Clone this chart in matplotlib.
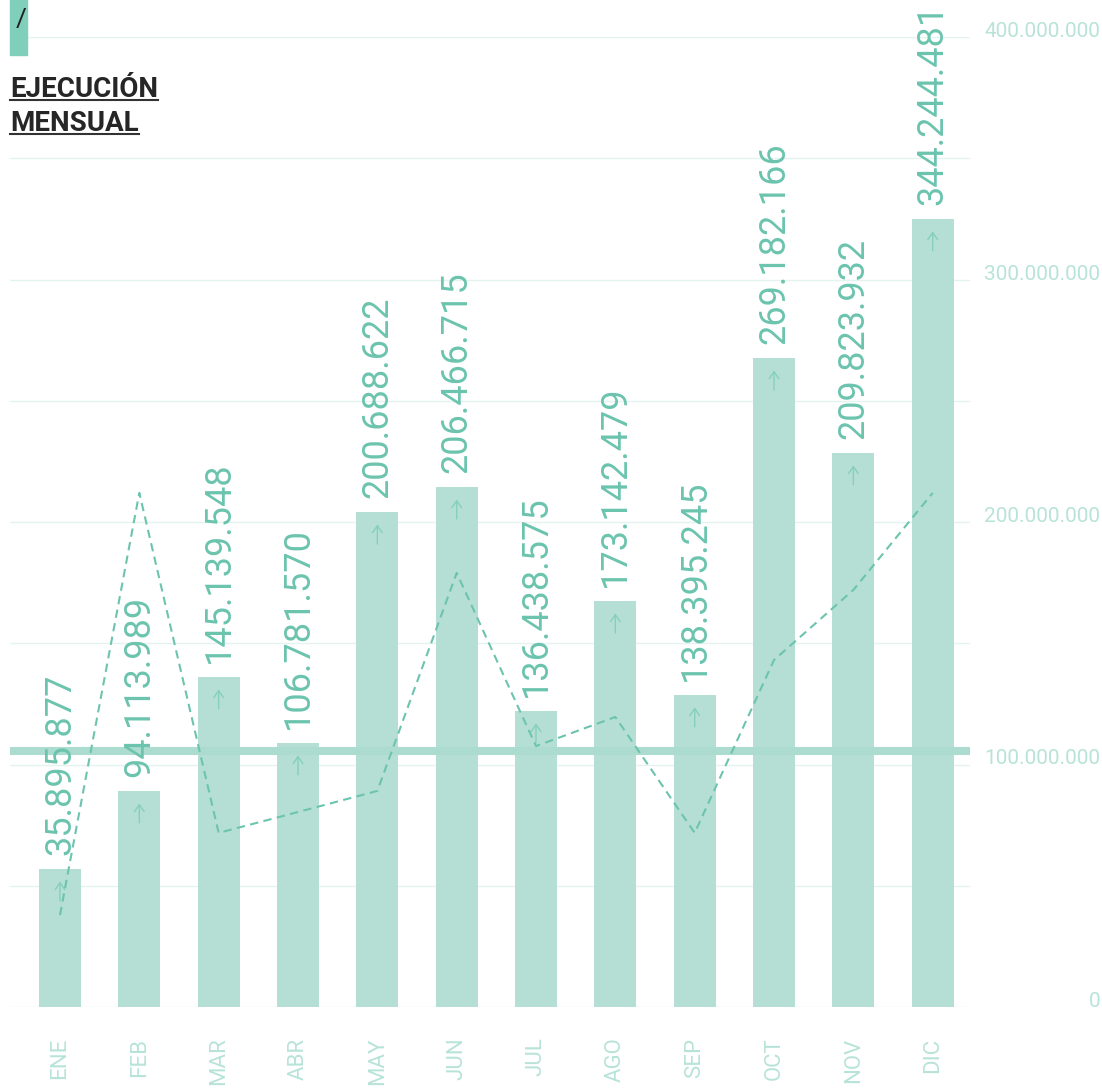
import matplotlib
matplotlib.use('Agg')
import matplotlib.pyplot as plt
import numpy as np
from matplotlib.lines import Line2D
from matplotlib.patches import Rectangle
from matplotlib.transforms import offset_copy

# datos
meses = ['ENE', 'FEB', 'MAR', 'ABR', 'MAY', 'JUN', 'JUL', 'AGO', 'SEP', 'OCT', 'NOV', 'DIC']
ejecucion = np.array([56.9, 89.1, 136.1, 108.9, 204.1, 214.4, 122.1, 167.4, 128.7, 267.6, 228.5, 325.0]) * 1e6
etiquetas = ['35.895.877', '94.113.989', '145.139.548', '106.781.570', '200.688.622', '206.466.715',
             '136.438.575', '173.142.479', '138.395.245', '269.182.166', '209.823.932', '344.244.481']
tendencia = np.array([37.9, 212.0, 71.8, 80.4, 89.1, 179.0, 107.6, 119.6, 71.8, 143.1, 172.0, 212.0]) * 1e6
promedio = 105.6e6
yticks = [0, 1e8, 2e8, 3e8, 4e8]
ytick_labels = ['0', '100.000.000', '200.000.000', '300.000.000', '400.000.000']

plt.rcParams['font.family'] = ['Roboto', 'DejaVu Sans']

W, H = 1102, 1088
fig = plt.figure(figsize=(W / 100, H / 100), dpi=100)
ax = fig.add_axes([10 / W, 81 / H, 960 / W, 970 / H])

x = np.arange(len(meses))
ax.bar(x, ejecucion, width=0.53, color='#b5dfd5', zorder=2)
ax.axhline(promedio, color='#abdccf', lw=5.8, zorder=3)
ax.plot(x, tendencia, ls=(0, (4, 2.6)), color='#6cc4ae', lw=1.5, zorder=5)

ax.set_xlim(-0.63, 11.47)
ax.set_ylim(0, 4e8)

# etiquetas de valor
for xi, v, lab in zip(x, ejecucion, etiquetas):
    ax.annotate(lab, (xi, v), xytext=(0, 10), textcoords='offset points', rotation=90,
                ha='center', va='bottom', fontsize=26, color='#6cc4ae', zorder=6,
                annotation_clip=False)

# flechas dentro de cada barra
tr_head = offset_copy(ax.transData, fig=fig, x=0, y=-9, units='points')
tr_tail = offset_copy(ax.transData, fig=fig, x=0, y=-23, units='points')
for xi, v in zip(x, ejecucion):
    p_head = tr_head.transform((xi, v))
    p_tail = tr_tail.transform((xi, v))
    ax.annotate('', xy=p_head, xycoords='figure pixels', xytext=p_tail, textcoords='figure pixels',
                arrowprops=dict(arrowstyle='->,head_length=0.5,head_width=0.35', lw=1,
                                color='#85cfbc', shrinkA=0, shrinkB=0),
                zorder=4)

ax.set_xticks(x)
ax.set_xticklabels(meses, rotation=90, va='top', ha='center', fontsize=16,
                   color='#b8e3d8')
ax.set_yticks(yticks)
ax.set_yticks(np.arange(0, 4.01e8, 5e7), minor=True)
ax.yaxis.tick_right()
ax.set_yticklabels(ytick_labels, fontsize=15, color='#b8e3d8')
for lbl in ax.get_yticklabels():
    lbl.set_ha('right')
    lbl.set_va('baseline')
ax.tick_params(axis='y', which='both', length=0, pad=93.6)
ax.tick_params(axis='x', length=0, pad=22)
ax.grid(axis='y', which='both', color='#e3f3ef', lw=1, zorder=0)
ax.set_axisbelow(True)
for s in ax.spines.values():
    s.set_visible(False)

# titulo
fig.add_artist(Rectangle((10 / W, 1 - 55 / H), 17 / W, 55 / H, transform=fig.transFigure,
                         color='#7fcfba', zorder=5))
fig.text(16 / W, 1 - 32 / H, '/', fontsize=19, color='#222222', va='bottom', zorder=6)
t1 = fig.text(10 / W, 1 - 97 / H, 'EJECUCIÓN', fontsize=20, fontweight='bold',
              color='#262626', va='baseline')
t2 = fig.text(10 / W, 1 - 131 / H, 'MENSUAL', fontsize=20, fontweight='bold',
              color='#262626', va='baseline')

# subrayado
fig.canvas.draw()
r = fig.canvas.get_renderer()
for t, yy in [(t1, 100), (t2, 134)]:
    bb = t.get_window_extent(r)
    fig.add_artist(Line2D([bb.x0 / W, bb.x1 / W], [1 - yy / H, 1 - yy / H],
                          transform=fig.transFigure, color='#333333', lw=1.5))

fig.savefig('out.png', dpi=100)
plt.close()
